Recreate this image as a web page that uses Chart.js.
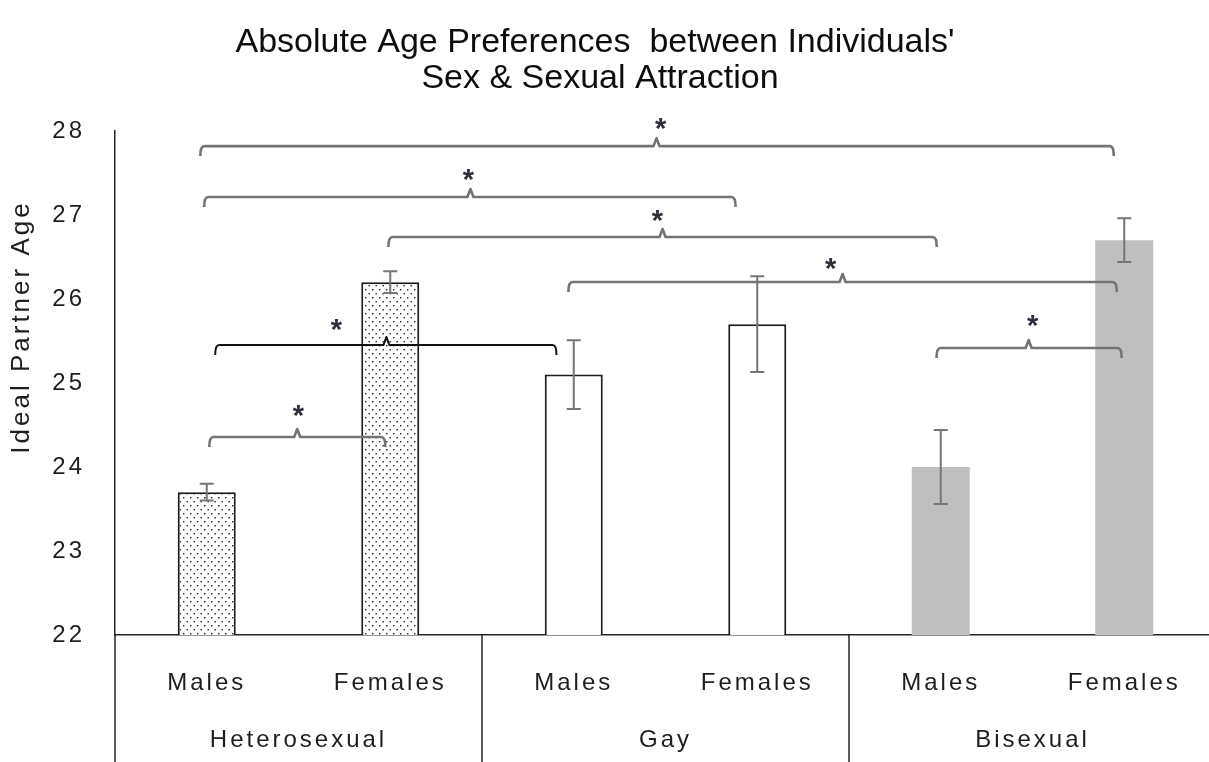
<!DOCTYPE html>
<html>
<head>
<meta charset="utf-8">
<script src="https://cdn.jsdelivr.net/npm/chart.js@4"></script>
<style>
  html, body { margin: 0; padding: 0; overflow: hidden; background: #fff; }
  canvas { display: block; }
</style>
</head>
<body>
<canvas id="c" width="1216" height="762"></canvas>
<script>
// Bar categories and their sexual-attraction groups
const categories = ['Males', 'Females', 'Males', 'Females', 'Males', 'Females'];
const groups = ['Heterosexual', 'Gay', 'Bisexual'];

// Mean ideal partner age and its error (± years)
const meanAge = [23.7, 26.2, 25.1, 25.7, 24.0, 26.7];
const errAge = [0.10, 0.13, 0.41, 0.57, 0.44, 0.26];

// Y axis tick values
const yTicks = [22, 23, 24, 25, 26, 27, 28];

// Significance brackets: ends and peak in category units, level in years
const bracketFrom  = [-0.035, -0.014, 0.990, 1.971, 0.046, 0.014, 3.977];
const bracketTo    = [ 4.943,  2.882, 3.978, 4.959, 1.906, 0.973, 4.986];
const bracketPeak  = [ 2.451,  1.437, 2.484, 3.465, 0.979, 0.493, 4.479];
const bracketLevel = [27.82, 27.214, 26.738, 26.202, 25.452, 24.357, 25.417];
const starAt       = [ 2.473,  1.426, 2.456, 3.400, 0.706, 0.499, 4.501];
const starLevel    = [28.11, 27.512, 27.024, 26.452, 25.726, 24.702, 25.774];
const bracketInk   = ['#747474', '#747474', '#747474', '#747474', '#111111', '#747474', '#747474'];

const FONT = '"Liberation Sans", Arial, sans-serif';
const TEXT = '#1e1e1e';
const AXIS = '#262626';

const canvas = document.getElementById('c');

// stippled fill for the heterosexual bars
function stipple() {
  const p = document.createElement('canvas');
  p.width = 7; p.height = 8;
  const g = p.getContext('2d');
  g.fillStyle = '#ffffff';
  g.fillRect(0, 0, 7, 8);
  g.fillStyle = '#222222';
  g.fillRect(1, 1, 1.4, 1.4);
  g.fillRect(4.5, 5, 1.4, 1.4);
  return canvas.getContext('2d').createPattern(p, 'repeat');
}
const dots = stipple();

const spacing = {
  id: 'spacing',
  beforeLayout(chart) { chart.ctx.letterSpacing = '3px'; },
  beforeDraw(chart) { chart.ctx.letterSpacing = '3px'; }
};

const errorBars = {
  id: 'errorBars',
  afterDatasetsDraw(chart) {
    const { ctx, scales: { x, y } } = chart;
    ctx.save();
    ctx.strokeStyle = '#767676';
    ctx.lineWidth = 2;
    meanAge.forEach((m, i) => {
      const cx = x.getPixelForValue(i);
      const top = y.getPixelForValue(m + errAge[i]);
      const bot = y.getPixelForValue(m - errAge[i]);
      ctx.beginPath();
      ctx.moveTo(cx, top); ctx.lineTo(cx, bot);
      ctx.moveTo(cx - 7, top); ctx.lineTo(cx + 7, top);
      ctx.moveTo(cx - 7, bot); ctx.lineTo(cx + 7, bot);
      ctx.stroke();
    });
    ctx.restore();
  }
};

const brackets = {
  id: 'brackets',
  afterDatasetsDraw(chart) {
    const { ctx, scales: { x, y } } = chart;
    ctx.save();
    ctx.lineJoin = 'round';
    bracketLevel.forEach((lv, i) => {
      const x1 = x.getPixelForValue(bracketFrom[i]);
      const x2 = x.getPixelForValue(bracketTo[i]);
      const xp = x.getPixelForValue(bracketPeak[i]);
      const yl = y.getPixelForValue(lv);
      ctx.strokeStyle = bracketInk[i];
      ctx.lineWidth = i === 4 ? 2 : 2.6;
      ctx.beginPath();
      ctx.moveTo(x1, yl + 10);
      ctx.quadraticCurveTo(x1, yl, x1 + 4, yl);
      ctx.lineTo(xp - 3, yl);
      ctx.lineTo(xp, yl - 8);
      ctx.lineTo(xp + 3, yl);
      ctx.lineTo(x2 - 4, yl);
      ctx.quadraticCurveTo(x2, yl, x2, yl + 10);
      ctx.stroke();
      // significance asterisk
      const fs = 29;
      ctx.letterSpacing = '0px';
      ctx.font = 'bold ' + fs + 'px ' + FONT;
      ctx.fillStyle = '#2e2e3c';
      ctx.textAlign = 'center';
      ctx.textBaseline = 'alphabetic';
      ctx.fillText('*', x.getPixelForValue(starAt[i]), y.getPixelForValue(starLevel[i]) + 0.57 * fs);
    });
    ctx.restore();
  }
};

const frame = {
  id: 'frame',
  afterDraw(chart) {
    const { ctx, scales: { x, y } } = chart;
    ctx.save();
    // group separators below the axis
    ctx.strokeStyle = AXIS;
    ctx.lineWidth = 1.5;
    const cuts = [x.left,
      (x.getPixelForValue(1) + x.getPixelForValue(2)) / 2,
      (x.getPixelForValue(3) + x.getPixelForValue(4)) / 2];
    ctx.beginPath();
    cuts.forEach(cx => { ctx.moveTo(cx, y.bottom); ctx.lineTo(cx, chart.height); });
    ctx.stroke();

    // axis title
    ctx.letterSpacing = '3px';
    ctx.fillStyle = TEXT;
    ctx.font = '26px ' + FONT;
    ctx.textAlign = 'center';
    ctx.textBaseline = 'middle';
    ctx.translate(22, 327);
    ctx.rotate(-Math.PI / 2);
    ctx.fillText('Ideal Partner Age', 0, 0);
    ctx.setTransform(1, 0, 0, 1, 0, 0);

    // chart title
    ctx.letterSpacing = '0px';
    ctx.fillStyle = '#0d0d0d';
    ctx.font = '34px ' + FONT;
    ctx.textBaseline = 'alphabetic';
    ctx.fillText('Absolute Age Preferences  between Individuals\'', 595, 52);
    ctx.fillText('Sex & Sexual Attraction', 600, 88);
    ctx.restore();
  }
};

new Chart(canvas, {
  type: 'bar',
  data: {
    labels: categories,
    datasets: [{
      data: meanAge,
      backgroundColor: [dots, dots, '#ffffff', '#ffffff', '#bfbfbf', '#bfbfbf'],
      borderColor: ['#1a1a1a', '#1a1a1a', '#1a1a1a', '#1a1a1a', 'rgba(0,0,0,0)', 'rgba(0,0,0,0)'],
      borderWidth: [2, 2, 2, 2, 0, 0],
      barPercentage: 0.316,
      categoryPercentage: 1
    }]
  },
  options: {
    responsive: false,
    animation: false,
    devicePixelRatio: 1,
    layout: { padding: { top: 131, left: 0, right: 0, bottom: 0 } },
    plugins: {
      legend: { display: false },
      title: { display: false },
      tooltip: { enabled: false }
    },
    scales: {
      y: {
        min: 22,
        max: 28,
        afterBuildTicks: s => { s.ticks = yTicks.map(v => ({ value: v })); },
        afterFit: s => { s.width = 115; },
        grid: { display: false, drawTicks: false },
        border: { display: true, color: AXIS, width: 1.5 },
        ticks: { padding: 30, color: TEXT, font: { family: FONT, size: 24 } }
      },
      x: {
        weight: 0,
        afterFit: s => { s.height = 70; },
        grid: { display: false, drawTicks: false },
        border: { display: true, color: AXIS, width: 1.5 },
        ticks: { padding: 34, autoSkip: false, maxRotation: 0, color: TEXT, font: { family: FONT, size: 24 } }
      },
      x2: {
        type: 'category',
        labels: groups,
        position: 'bottom',
        offset: true,
        weight: 1,
        afterFit: s => { s.height = 57; },
        grid: { display: false, drawTicks: false },
        border: { display: false },
        ticks: { padding: 21, autoSkip: false, maxRotation: 0, color: TEXT, font: { family: FONT, size: 24 } }
      }
    }
  },
  plugins: [spacing, errorBars, brackets, frame]
});
</script>
</body>
</html>
